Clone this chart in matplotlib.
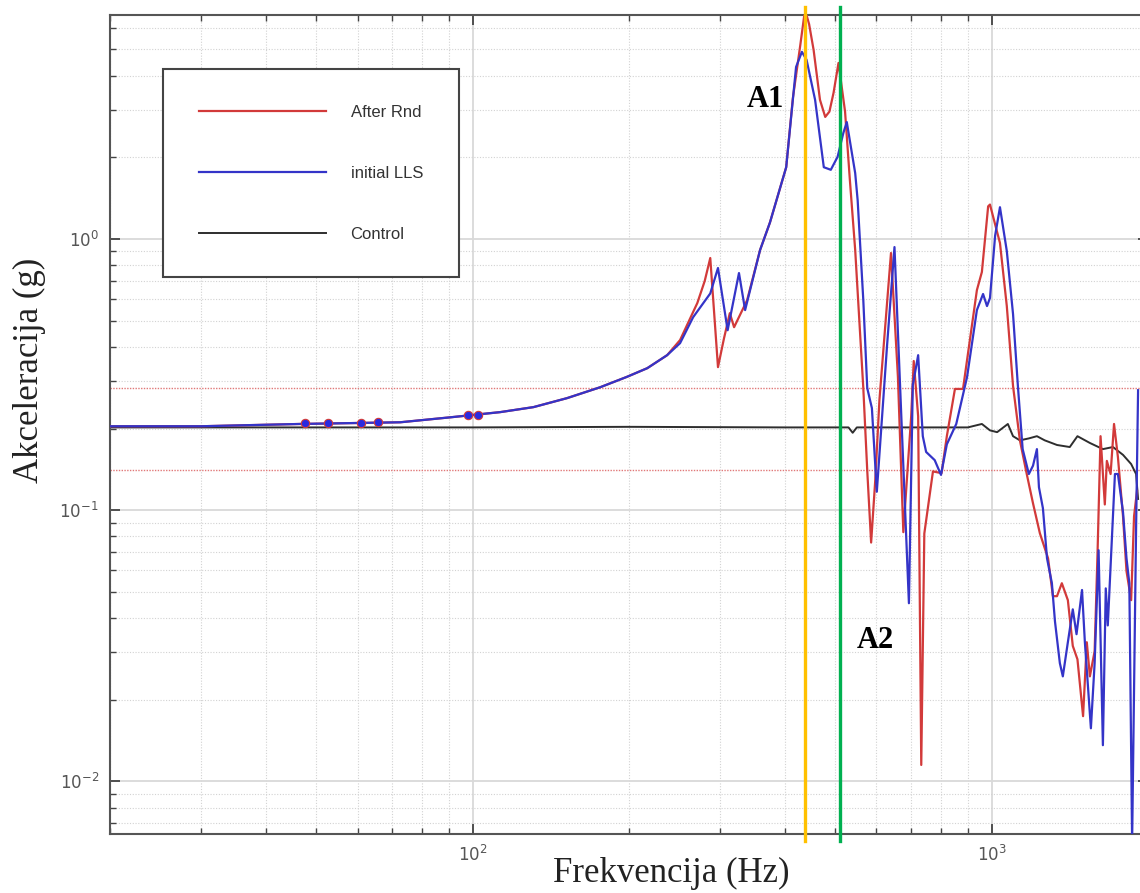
import matplotlib

matplotlib.use("Agg")  # headless
import matplotlib.pyplot as plt
from matplotlib.ticker import NullFormatter

# ── Data (frequency [Hz], acceleration [g]) ─────────────────────────────────
after_rnd_freq = [
    20, 30, 46.5, 72.5, 90.4, 113, 131, 152, 176, 198, 217, 237, 251, 271, 280,
    287, 297, 305, 313, 319, 338, 358, 374, 402, 414, 428, 437, 445, 454, 467,
    478, 487, 496, 507, 522, 533, 546, 556, 566, 576, 586, 597, 608, 640, 660,
    676, 700, 708, 722, 732, 742, 771, 801, 820, 850, 881, 937, 958, 985, 993,
    1038, 1070, 1100, 1134, 1169, 1202, 1239, 1285, 1313, 1337, 1366, 1403,
    1434, 1464, 1501, 1526, 1547, 1580, 1601, 1622, 1653, 1668, 1696, 1722,
    1752, 1792, 1820, 1858, 1882, 1907,
]
after_rnd_g = [
    0.204, 0.204, 0.208, 0.211, 0.220, 0.230, 0.240, 0.259, 0.284, 0.310, 0.334,
    0.373, 0.424, 0.581, 0.70, 0.851, 0.337, 0.43, 0.533, 0.473, 0.595, 0.911,
    1.15, 1.84, 3.3, 5.2, 7.0, 6.2, 4.98, 3.26, 2.82, 2.95, 3.46, 4.46, 2.95,
    1.67, 0.911, 0.504, 0.282, 0.14, 0.076, 0.13, 0.255, 0.888, 0.310, 0.083,
    0.222, 0.355, 0.222, 0.0115, 0.082, 0.139, 0.137, 0.1875, 0.280, 0.280,
    0.648, 0.756, 1.32, 1.34, 0.967, 0.566, 0.287, 0.181, 0.136, 0.106, 0.0823,
    0.0665, 0.0482, 0.0482, 0.0538, 0.0466, 0.0316, 0.0282, 0.0174, 0.0326,
    0.0244, 0.0302, 0.0712, 0.1875, 0.105, 0.152, 0.136, 0.208, 0.157, 0.095,
    0.0596, 0.0466, 0.095, 0.118,
]

initial_lls_freq = [
    20, 30, 46.5, 72.5, 90.4, 113, 131, 152, 176, 198, 217, 237, 251, 266, 287,
    297, 310, 326, 335, 358, 374, 402, 420, 431, 440, 457, 475, 490, 505, 518,
    526, 546, 552, 566, 576, 588, 601, 629, 650, 670, 693, 705, 722, 737, 748,
    777, 799, 820, 855, 897, 937, 963, 980, 993, 1016, 1038, 1070, 1100, 1124,
    1148, 1180, 1202, 1223, 1234, 1256, 1279, 1307, 1325, 1354, 1372, 1403,
    1434, 1458, 1494, 1513, 1554, 1580, 1608, 1639, 1660, 1675, 1729, 1752,
    1792, 1820, 1843, 1866, 1899, 1916,
]
initial_lls_g = [
    0.204, 0.204, 0.208, 0.211, 0.220, 0.230, 0.240, 0.259, 0.284, 0.310, 0.334,
    0.373, 0.413, 0.515, 0.63, 0.782, 0.461, 0.749, 0.547, 0.911, 1.15, 1.84,
    4.31, 4.90, 4.58, 3.26, 1.84, 1.80, 2.01, 2.46, 2.70, 1.75, 1.39, 0.595,
    0.282, 0.238, 0.117, 0.406, 0.934, 0.222, 0.0454, 0.289, 0.373, 0.1875,
    0.164, 0.153, 0.135, 0.175, 0.208, 0.310, 0.547, 0.627, 0.566, 0.606, 1.03,
    1.31, 0.903, 0.529, 0.287, 0.168, 0.136, 0.146, 0.168, 0.1216, 0.1017,
    0.0665, 0.0538, 0.0389, 0.0273, 0.0244, 0.0326, 0.0431, 0.0349, 0.0508,
    0.0326, 0.0157, 0.0273, 0.0712, 0.0136, 0.0515, 0.0376, 0.136, 0.136,
    0.0985, 0.0665, 0.0538, 0.006, 0.0851, 0.277,
]

control_freq = [
    20, 100, 200, 400, 530, 540, 550, 900, 958, 993, 1025, 1061, 1075, 1100,
    1134, 1180, 1223, 1266, 1337, 1415, 1464, 1547, 1639, 1714, 1792, 1858,
    1899, 1916,
]
control_g = [
    0.202, 0.202, 0.203, 0.202, 0.202, 0.193, 0.202, 0.202, 0.208, 0.197, 0.194,
    0.204, 0.208, 0.1875, 0.181, 0.184, 0.1875, 0.181, 0.174, 0.171, 0.1875,
    0.177, 0.168, 0.171, 0.160, 0.148, 0.136, 0.110,
]

# small blobs on the low-frequency part of the traces
blob_freq = [47.5, 52.7, 60.8, 65.7, 97.8, 102.5]
blob_g = [0.209, 0.209, 0.210, 0.211, 0.224, 0.225]

tol_upper = 0.283  # +3 dB around the 0.2 g reference
tol_lower = 0.141  # -3 dB
a1_freq = 437
a2_freq = 510

# ── Figure ──────────────────────────────────────────────────────────────────
fig = plt.figure(figsize=(11.4, 8.93), dpi=100)
ax = fig.add_axes([0.0965, 0.0661, 0.9103, 0.9171])
ax.set_xscale("log")
ax.set_yscale("log")
ax.set_xlim(20, 2000)
ax.set_ylim(0.0064, 6.7)

ax.grid(True, which="major", color="#d9d9d9", lw=1.3, ls="-")
ax.grid(True, which="minor", color="#d2d2d2", lw=0.8, ls=(0, (1, 1.5)))
ax.set_axisbelow(True)

ax.axhline(tol_upper, color="#e07878", lw=1.0, ls=(0, (1, 1)), zorder=1.5)
ax.axhline(tol_lower, color="#e07878", lw=1.0, ls=(0, (1, 1)), zorder=1.5)

ax.plot(control_freq, control_g, color="#2e2e2e", lw=1.4, label="Control", zorder=2)
ax.plot(after_rnd_freq, after_rnd_g, color="#d23a3a", lw=1.6, label="After Rnd",
        zorder=3, solid_joinstyle="round")
ax.plot(initial_lls_freq, initial_lls_g, color="#3434c8", lw=1.6, label="initial LLS",
        zorder=4, solid_joinstyle="round")
ax.plot(blob_freq, blob_g, ls="none", marker="o", ms=6, mfc="#2a2ae0",
        mec="#d23a3a", mew=0.8, zorder=5)

ax.axvline(a1_freq, ymin=-0.008, ymax=1.01, color="#ffc000", lw=2.4, clip_on=False, zorder=6)
ax.axvline(a2_freq, ymin=-0.008, ymax=1.01, color="#00b050", lw=2.4, clip_on=False, zorder=6)

ax.text(366, 3.26, "A1", family="Liberation Serif", weight="bold", fontsize=22,
        ha="center", va="center", zorder=7)
ax.text(596, 0.0332, "A2", family="Liberation Serif", weight="bold", fontsize=22,
        ha="center", va="center", zorder=7)

# legend in the order of the reference
handles, labels = ax.get_legend_handles_labels()
order = [labels.index(n) for n in ("After Rnd", "initial LLS", "Control")]
leg = ax.legend(
    [handles[i] for i in order], [labels[i] for i in order],
    loc="upper left", bbox_to_anchor=(0.0511, 0.934), borderaxespad=0,
    prop={"family": "Liberation Sans", "size": 12},
    handlelength=7.6, handletextpad=1.5, labelspacing=2.75, borderpad=2.15,
    fancybox=False, framealpha=1, edgecolor="#444444",
)
leg.get_frame().set_linewidth(1.5)
for t in leg.get_texts():
    t.set_color("#333333")

ax.tick_params(which="both", direction="in", top=True, right=True,
               colors="#444444", labelcolor="#555555", labelsize=12)
ax.tick_params(which="major", length=7, width=1.3, pad=8)
ax.tick_params(which="minor", length=4, width=1.0)
ax.xaxis.set_minor_formatter(NullFormatter())
ax.yaxis.set_minor_formatter(NullFormatter())
for sp in ax.spines.values():
    sp.set_color("#555555")
    sp.set_linewidth(1.5)

ax.set_xlabel("Frekvencija (Hz)", family="Liberation Serif", fontsize=25, color="#222222")
ax.set_ylabel("Akceleracija (g)", family="Liberation Serif", fontsize=25, color="#222222")
ax.xaxis.set_label_coords(0.5406, -0.028)
ax.yaxis.set_label_coords(-0.062, 0.566)

fig.savefig("out.png", dpi=100)
